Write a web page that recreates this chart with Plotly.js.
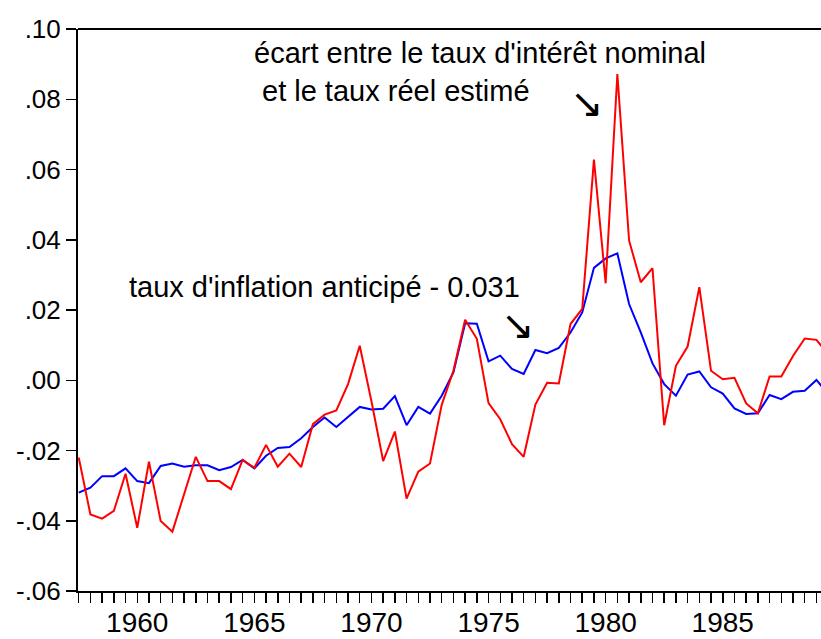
<!DOCTYPE html>
<html>
<head>
<meta charset="utf-8">
<script src="https://cdn.plot.ly/plotly-3.0.1.min.js"></script>
<style>html,body{margin:0;padding:0;background:#fff;}#chart{width:821px;height:639px;}</style>
</head>
<body>
<div id="chart"></div>
<script>
// Semi-annual observations (1957 S2 .. 1989 S2), plotted at year + 0.5 for S2
const periods = [1957.5,1958,1958.5,1959,1959.5,1960,1960.5,1961,1961.5,1962,
  1962.5,1963,1963.5,1964,1964.5,1965,1965.5,1966,1966.5,1967,
  1967.5,1968,1968.5,1969,1969.5,1970,1970.5,1971,1971.5,1972,
  1972.5,1973,1973.5,1974,1974.5,1975,1975.5,1976,1976.5,1977,
  1977.5,1978,1978.5,1979,1979.5,1980,1980.5,1981,1981.5,1982,
  1982.5,1983,1983.5,1984,1984.5,1985,1985.5,1986,1986.5,1987,
  1987.5,1988,1988.5,1989,1989.5];

// écart entre le taux d'intérêt nominal et le taux réel estimé (red)
const ecartTaux = [-0.0220,-0.0382,-0.0394,-0.0372,-0.0266,-0.0420,-0.0232,-0.0401,-0.0431,-0.0325,
  -0.0218,-0.0287,-0.0287,-0.0310,-0.0227,-0.0249,-0.0184,-0.0246,-0.0209,-0.0247,
  -0.0125,-0.0098,-0.0086,-0.0011,0.0098,-0.0060,-0.0230,-0.0146,-0.0337,-0.0260,
  -0.0237,-0.0070,0.0027,0.0172,0.0118,-0.0065,-0.0111,-0.0182,-0.0218,-0.0069,
  -0.0007,-0.0009,0.0160,0.0203,0.0628,0.0276,0.0872,0.0398,0.0279,0.0319,
  -0.0128,0.0041,0.0096,0.0265,0.0027,0.0003,0.0007,-0.0066,-0.0094,0.0011,
  0.0011,0.0069,0.0119,0.0115,0.0075];

// taux d'inflation anticipé - 0.031 (blue)
const inflationAnticipee = [-0.0320,-0.0306,-0.0273,-0.0273,-0.0251,-0.0287,-0.0293,-0.0244,-0.0237,-0.0246,
  -0.0242,-0.0242,-0.0256,-0.0247,-0.0227,-0.0251,-0.0215,-0.0193,-0.0190,-0.0165,
  -0.0133,-0.0106,-0.0133,-0.0104,-0.0076,-0.0083,-0.0081,-0.0045,-0.0128,-0.0076,
  -0.0095,-0.0044,0.0022,0.0162,0.0161,0.0054,0.0070,0.0032,0.0018,0.0086,
  0.0077,0.0092,0.0136,0.0193,0.0320,0.0347,0.0361,0.0217,0.0136,0.0048,
  -0.0011,-0.0044,0.0016,0.0025,-0.0020,-0.0038,-0.0080,-0.0096,-0.0094,-0.0042,
  -0.0054,-0.0033,-0.0030,0.0001,-0.0039];

const yTickVals = [-0.06,-0.04,-0.02,0.00,0.02,0.04,0.06,0.08,0.10];
const yTickText = ['-.06','-.04','-.02','.00','.02','.04','.06','.08','.10'];
const xLabelYears = [1960,1965,1970,1975,1980,1985];

const xTickText = periods.map(p => xLabelYears.indexOf(p) >= 0 ? String(p) : '');

const W = 821, H = 639, L = 78, R = 0, T = 29, B = 48;
const pw = W - L - R, ph = H - T - B;
const px = X => (X - L) / pw;
const py = Y => (H - B - Y) / ph;

const traces = [
  {x: periods, y: inflationAnticipee, type: 'scatter', mode: 'lines',
   line: {color: '#0000FF', width: 2}, hoverinfo: 'skip'},
  {x: periods, y: ecartTaux, type: 'scatter', mode: 'lines',
   line: {color: '#FF0000', width: 2}, hoverinfo: 'skip'}
];

const txtFont = {family: 'Liberation Sans, Arial, sans-serif', size: 29, color: '#000'};
const arrowFont = {family: 'DejaVu Sans, sans-serif', size: 40, color: '#000'};

const layout = {
  width: W, height: H,
  margin: {l: L, r: R, t: T, b: B, pad: 0},
  paper_bgcolor: '#fff', plot_bgcolor: '#fff',
  showlegend: false,
  xaxis: {
    range: [1957.47, 1957.47 + pw / 23.42],
    tickmode: 'array', tickvals: periods, ticktext: xTickText,
    ticks: 'outside', ticklen: 10, tickwidth: 1.5, tickcolor: '#000',
    ticklabelstandoff: -5,
    showline: true, linewidth: 2, linecolor: '#000',
    showgrid: false, zeroline: false,
    tickfont: {family: 'Liberation Sans, Arial, sans-serif', size: 28, color: '#000'}
  },
  yaxis: {
    range: [-0.06, 0.10],
    tickmode: 'array', tickvals: yTickVals, ticktext: yTickText,
    ticks: 'outside', ticklen: 10, tickwidth: 1.5, tickcolor: '#000',
    showline: true, linewidth: 2, linecolor: '#000',
    showgrid: false, zeroline: false,
    tickfont: {family: 'Liberation Sans, Arial, sans-serif', size: 26, color: '#000'}
  },
  shapes: [
    {type: 'line', xref: 'paper', yref: 'paper', x0: 0, x1: 1, y0: 1, y1: 1,
     line: {color: '#000', width: 2}}
  ],
  annotations: [
    {text: "écart entre le taux d'intérêt nominal", xref: 'paper', yref: 'paper',
     x: px(252), y: py(53), xanchor: 'left', yanchor: 'middle', showarrow: false, font: txtFont},
    {text: "et le taux réel estimé", xref: 'paper', yref: 'paper',
     x: px(260), y: py(91), xanchor: 'left', yanchor: 'middle', showarrow: false, font: txtFont},
    {text: "taux d'inflation anticipé - 0.031", xref: 'paper', yref: 'paper',
     x: px(127), y: py(287), xanchor: 'left', yanchor: 'middle', showarrow: false, font: txtFont},
    {text: "↘", xref: 'paper', yref: 'paper',
     x: px(518), y: py(325), xanchor: 'center', yanchor: 'middle', showarrow: false, font: arrowFont},
    {text: "↘", xref: 'paper', yref: 'paper',
     x: px(587), y: py(103), xanchor: 'center', yanchor: 'middle', showarrow: false, font: arrowFont}
  ]
};

Plotly.newPlot('chart', traces, layout, {staticPlot: true, displayModeBar: false});
</script>
</body>
</html>
